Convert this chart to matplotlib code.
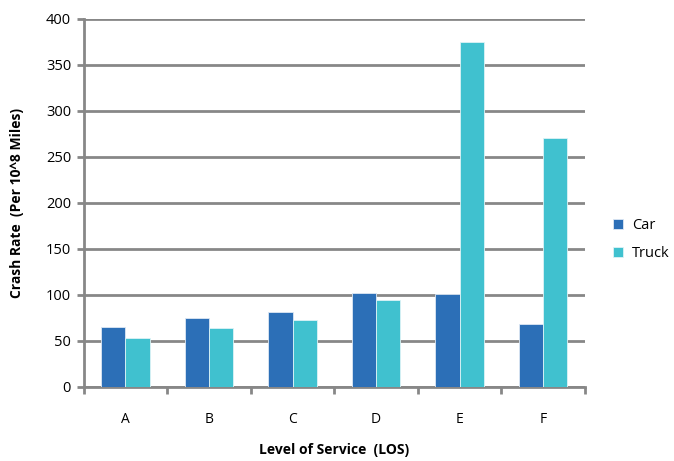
import numpy as np
import matplotlib.pyplot as plt

# Crash rate by level of service
categories = ['A', 'B', 'C', 'D', 'E', 'F']
car = [65.5, 74.7, 80.8, 102, 101, 68.5]
truck = [53.2, 64, 73.1, 94.3, 375, 271]

plt.rcParams['font.family'] = ['Open Sans', 'DejaVu Sans']

fig = plt.figure(figsize=(6.74, 4.61), dpi=100)
ax = fig.add_axes([0.124, 0.161, 0.744, 0.798])

x = np.arange(len(categories))
w = 0.29
ax.bar(x - w / 2, car, w, color='#2C6FB7', edgecolor='#DDE8F4', linewidth=0.6, label='Car', zorder=3)
ax.bar(x + w / 2, truck, w, color='#40C1CF', edgecolor='#DDF3F6', linewidth=0.6, label='Truck', zorder=3)

ax.set_xlim(-0.5, len(categories) - 0.5)
ax.set_ylim(0, 400)
ax.set_yticks(np.arange(0, 401, 50))
ax.set_xticks(x)
ax.set_xticklabels(categories)
ax.set_xticks(np.arange(-0.5, len(categories)), minor=True)

ax.grid(axis='y', color='#878787', linewidth=2, zorder=0)
for s in ['top', 'right']:
    ax.spines[s].set_visible(False)
for s in ['left', 'bottom']:
    ax.spines[s].set_color('#878787')
    ax.spines[s].set_linewidth(2)

ax.tick_params(axis='x', which='major', length=0, pad=18, labelsize=10)
ax.tick_params(axis='x', which='minor', length=5, width=2, color='#878787')
ax.tick_params(axis='y', length=5, width=2, color='#878787', labelsize=10.5, pad=4)

ax.set_xlabel('Level of Service  (LOS)', fontsize=10, fontweight='bold', labelpad=12)
ax.set_ylabel('Crash Rate  (Per 10^8 Miles)', fontsize=10, fontweight='bold', labelpad=16)

ax.legend(loc='center left', bbox_to_anchor=(1.03, 0.40), frameon=False, fontsize=10.5,
          handlelength=0.7, handleheight=0.7, handletextpad=0.6, labelspacing=0.9)

fig.savefig('out.png', dpi=100)
